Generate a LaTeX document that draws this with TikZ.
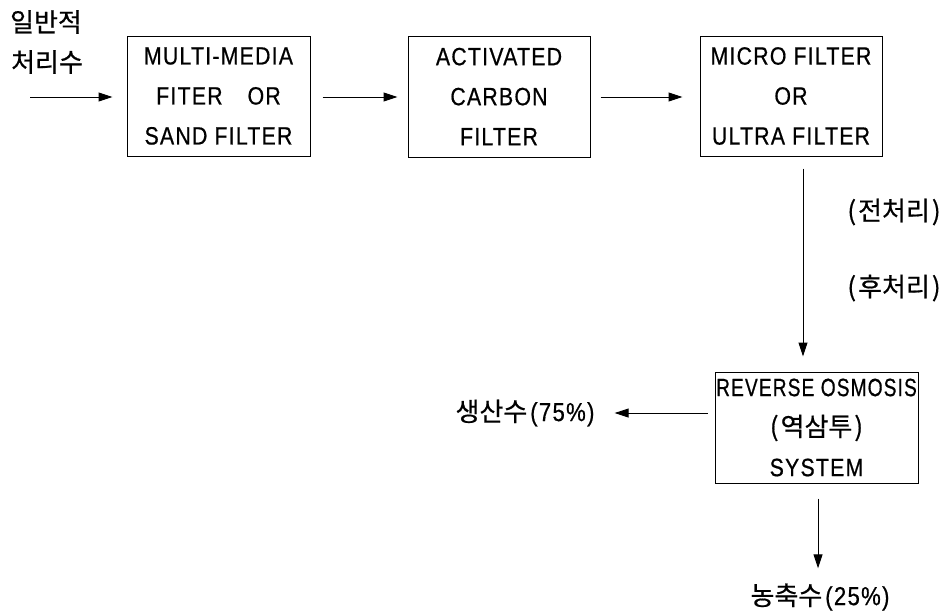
\documentclass[tikz,border=0pt]{standalone}
\usepackage{fontspec}
\usepackage{graphicx}
\usetikzlibrary{arrows.meta,calc}
\newfontfamily\kor[FakeBold=0.6]{Noto Sans CJK KR}
\newfontfamily\lat[FakeStretch=0.85,LetterSpace=5,FakeBold=0.6]{Liberation Sans}
\begin{document}
\begin{tikzpicture}[x=1pt,y=-1pt,
  box/.style={draw,line width=1pt,rectangle,inner sep=0pt,align=center,
    font=\lat\fontsize{25}{40}\selectfont},
  arr/.style={line width=1pt,-{Triangle[length=14pt,width=9pt]}},
  ktext/.style={inner sep=0pt,font=\kor\fontsize{26}{30}\selectfont}]
\useasboundingbox (0,0) rectangle (950,614);
% labels
\node[ktext] (k1) at (46,22) {일반적};
\node[ktext] (k2) at (47,62) {처리수};
\coordinate (in) at (30,97);
% boxes
\node[box,minimum width=183pt,minimum height=120pt] (b1) at (218.5,96)
  {MULTI-MEDIA\\FITER\hspace{1em}OR\\SAND FILTER};
\node[box,minimum width=182pt,minimum height=121pt] (b2) at (499,96.5)
  {ACTIVATED\\CARBON\\FILTER};
\node[box,minimum width=182pt,minimum height=120pt] (b3) at (791,96)
  {MICRO FILTER\\OR\\ULTRA FILTER};
\node[box,minimum width=203pt,minimum height=111pt] (b4) at (816.5,427.5)
  {\scalebox{0.9}[1]{REVERSE OSMOSIS}\\{\kor\fontsize{26}{40}\selectfont(\kern2pt 역삼투\kern2pt)}\\SYSTEM};
\node[ktext] (pre) at (894,212) {(\kern2pt 전처리\kern2pt)};
\node[ktext] (post) at (894,288) {(\kern2pt 후처리\kern2pt)};
\node[ktext] (prod) at (525,413) {생산수{\lat\kern3pt(75\%)}};
\node[ktext] (conc) at (820,597) {농축수{\lat\kern3pt(25\%)}};
\coordinate (vx) at (803,0);
\coordinate (dx) at (818,0);
% connectors
\draw[arr,shorten >=14pt] (in) -- (b1.west |- in);
\draw[arr,shorten <=12pt,shorten >=10pt] (b1.east |- in) -- (b2.west |- in);
\draw[arr,shorten <=10pt,shorten >=17pt] (b2.east |- in) -- (b3.west |- in);
\draw[arr,shorten <=12pt,shorten >=15pt] (b3.south -| vx) -- (b4.north -| vx);
\draw[arr,shorten <=7pt,shorten >=20pt] (b4.west |- prod) -- (prod.east);
\draw[arr,shorten <=15pt,shorten >=15pt] (b4.south -| dx) -- (conc.north -| dx);
\end{tikzpicture}
\end{document}
